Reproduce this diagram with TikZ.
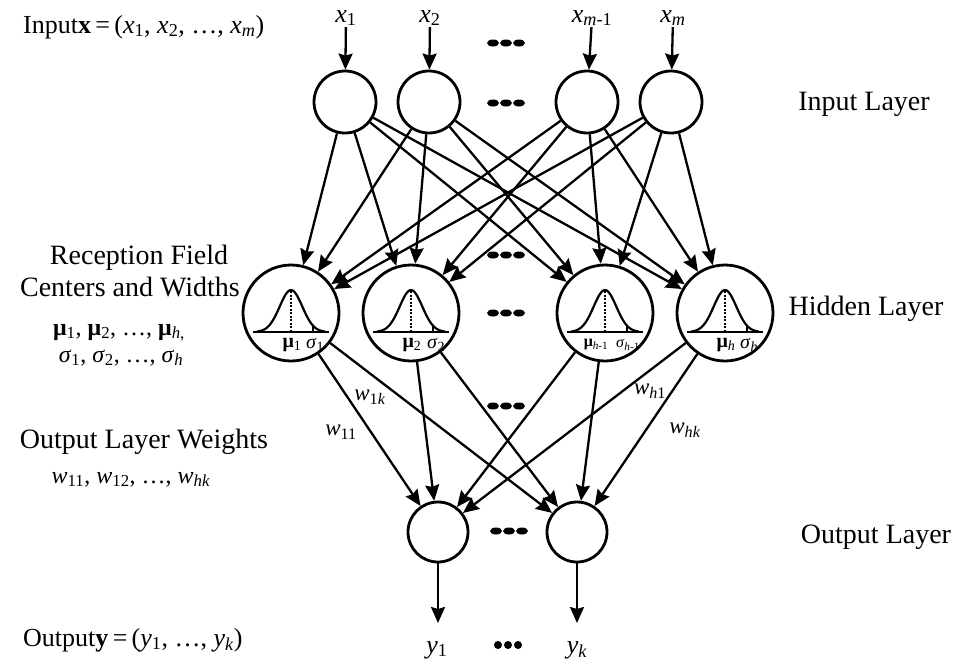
\documentclass[tikz,border=0pt]{standalone}
\usepackage{fontspec}
\setmainfont{Liberation Serif}
\usetikzlibrary{arrows.meta}
\newcommand\mydashdots[2]{\foreach \k in {-13,0,13}{\fill ({#1+\k},#2) ellipse (6pt and 3.5pt);}}
\newcommand\sub[1]{\textsubscript{#1}}
\tikzset{
  big/.style={font=\fontsize{28}{32}\selectfont, inner sep=1pt},
  mathl/.style={font=\fontsize{26}{30}\selectfont, inner sep=1pt},
  lbl/.style={font=\fontsize{26}{30}\selectfont, inner sep=1pt},
  wl/.style={font=\fontsize{23}{28}\selectfont, inner sep=0pt},
  tiny/.style={font=\fontsize{20}{22}\selectfont, inner sep=0pt},
  tinier/.style={font=\fontsize{16}{18}\selectfont, inner sep=0pt},
  neur/.style={draw, circle, line width=2.8pt, inner sep=0pt, minimum size=62pt},
  hid/.style={draw, circle, line width=2.8pt, inner sep=0pt, minimum size=96pt},
  arr/.style={line width=2.3pt, -{Stealth[length=16pt,width=14pt,inset=2pt]}},
  gauss/.style={line width=2.2pt},
}
\begin{document}
\begin{tikzpicture}[x=1pt,y=-1pt]
\useasboundingbox (0,0) rectangle (960,665);
% input layer
\node[neur] (i1) at (345,102) {};
\node[neur] (i2) at (429,102) {};
\node[neur] (i3) at (587,102) {};
\node[neur] (i4) at (671,102) {};
\node[lbl] (lx1) at (346,18) {\textit{x}\sub{1}};
\node[lbl] (lx2) at (430,18) {\textit{x}\sub{2}};
\node[lbl] (lx3) at (592,18) {\textit{x}\sub{\textit{m}-1}};
\node[lbl] (lx4) at (673,18) {\textit{x}\sub{\textit{m}}};
\foreach \i in {1,...,4}{\draw[arr] (lx\i) -- (i\i);}
% hidden layer
\foreach \n/\c in {1/291,2/411,3/605,4/725}{
  \node[hid] (h\n) at (\c,313) {};
  \draw[gauss] ({\c-38},332) -- ({\c+38},332);
  \draw[gauss] plot[domain=-34:34, samples=41, smooth] ({\c+\x},{332-42*exp(-((\x/16)^2))});
  \draw[line width=1.3pt, dash pattern=on 2pt off 1.5pt] (\c,291) -- (\c,332);
  \draw[line width=1.5pt] ({\c+22},332) -- ({\c+22},326);
}
\node[tiny] (m1) at (292,345) {\textbf{μ}\sub{1}};
\node[tiny] (s1) at (315,345) {\textit{σ}\sub{1}};
\node[tiny] (m2) at (412,345) {\textbf{μ}\sub{2}};
\node[tiny] (s2) at (436,345) {\textit{σ}\sub{2}};
\node[tinier] (m3) at (596,345) {\textbf{μ}\sub{\textit{h}-1}};
\node[tinier] (s3) at (628,345) {\textit{σ}\sub{\textit{h}-1}};
\node[tiny] (m4) at (726,345) {\textbf{μ}\sub{\textit{h}}};
\node[tiny] (s4) at (749,345) {\textit{σ}\sub{\textit{h}}};
% output layer
\node[neur, minimum size=60pt] (o1) at (438,532) {};
\node[neur, minimum size=60pt] (o2) at (577,532) {};
\coordinate (ye1) at (438,623);
\coordinate (ye2) at (577,623);
\draw[arr] (o1) -- (ye1);
\draw[arr] (o2) -- (ye2);
\node[lbl] (ly1) at (437,650) {\textit{y}\sub{1}};
\node[lbl] (ly2) at (577,650) {\textit{y}\sub{\textit{k}}};
% connections
\foreach \i in {1,...,4}{\foreach \j in {1,...,4}{\draw[arr] (i\i) -- (h\j);}}
\foreach \i in {1,...,4}{\foreach \j in {1,2}{\draw[arr] (h\i) -- (o\j);}}
% weight labels
\node[wl] (w1k) at (370,397) {\textit{w}\sub{1\textit{k}}};
\node[wl] (w11) at (341,432) {\textit{w}\sub{11}};
\node[wl] (wh1) at (650,391) {\textit{w}\sub{\textit{h}1}};
\node[wl] (whk) at (685,430) {\textit{w}\sub{\textit{hk}}};
% dots
\mydashdots{506}{43}
\mydashdots{506}{103}
\mydashdots{506}{255}
\mydashdots{506}{313}
\mydashdots{506}{406}
\mydashdots{509}{531}
\foreach \k in {-10,0,10}{\fill ({508+\k},645) circle (4pt);}
% side labels
\node[mathl, anchor=base west] (tin) at (22,33) {Input\textbf{x}\,=\,(\textit{x}\sub{1}, \textit{x}\sub{2}, \ldots, \textit{x}\sub{\textit{m}})};
\node[big] (lin) at (864,104) {Input Layer};
\node[big, anchor=base] (rf1) at (139,264) {Reception Field};
\node[big, anchor=base] (rf2) at (130,296) {Centers and Widths};
\node[mathl, anchor=base, font=\fontsize{24}{28}\selectfont] (rf3) at (119,335) {\textbf{μ}\sub{1}, \textbf{μ}\sub{2}, \ldots, \textbf{μ}\sub{\textit{h},}};
\node[mathl, anchor=base, font=\fontsize{24}{28}\selectfont] (rf4) at (121,362) {\textit{σ}\sub{1}, \textit{σ}\sub{2}, \ldots, \textit{σ}\sub{\textit{h}}};
\node[big] (lhid) at (866,309) {Hidden Layer};
\node[big, anchor=base] (ow1) at (144,448) {Output Layer Weights};
\node[mathl, anchor=base, font=\fontsize{24}{28}\selectfont] (ow2) at (131,483) {\textit{w}\sub{11}, \textit{w}\sub{12}, \ldots, \textit{w}\sub{\textit{hk}}};
\node[big] (lout) at (876,537) {Output Layer};
\node[mathl, anchor=base west] (tout) at (22,646) {Output\textbf{y}\,=\,(\textit{y}\sub{1}, \ldots, \textit{y}\sub{\textit{k}})};
\end{tikzpicture}
\end{document}
